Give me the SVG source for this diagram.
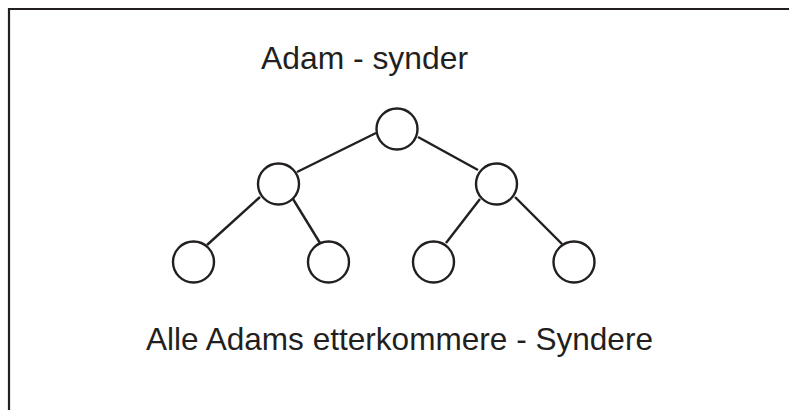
<svg xmlns="http://www.w3.org/2000/svg" width="789" height="410" viewBox="0 0 789 410">
<style>
.frame{fill:none;stroke:#231f20;stroke-width:2.2}
.node{fill:#fff;stroke:#231f20;stroke-width:2.4}
.edge{stroke:#231f20;stroke-width:2.4;fill:none}
.lbl{font-family:"Liberation Sans",Arial,sans-serif;font-size:31.5px;fill:#231f20}
</style>
<rect width="789" height="410" fill="#fff"/>
<path class="frame" d="M9,410 V9 H789"/>
<text class="lbl" x="261" y="69" textLength="207" lengthAdjust="spacingAndGlyphs">Adam - synder</text>
<text class="lbl" x="146" y="350" textLength="507" lengthAdjust="spacingAndGlyphs">Alle Adams etterkommere - Syndere</text>
<g id="connectors">
<line class="edge" x1="376" y1="133" x2="297" y2="172"/>
<line class="edge" x1="418" y1="137" x2="478" y2="170"/>
<line class="edge" x1="260" y1="197" x2="207" y2="245"/>
<line class="edge" x1="293" y1="199" x2="320" y2="243"/>
<line class="edge" x1="480" y1="199" x2="446" y2="243"/>
<line class="edge" x1="515" y1="197" x2="562" y2="244"/>
</g>
<g id="root"><circle class="node" cx="397" cy="129" r="20.5"/></g>
<g id="left"><circle class="node" cx="278.5" cy="184" r="20.5"/></g>
<g id="right"><circle class="node" cx="496.5" cy="184" r="20.5"/></g>
<g id="leaf1"><circle class="node" cx="193.5" cy="262" r="20.5"/></g>
<g id="leaf2"><circle class="node" cx="328.5" cy="262" r="20.5"/></g>
<g id="leaf3"><circle class="node" cx="433.5" cy="262" r="20.5"/></g>
<g id="leaf4"><circle class="node" cx="574" cy="262" r="20.5"/></g>
</svg>
